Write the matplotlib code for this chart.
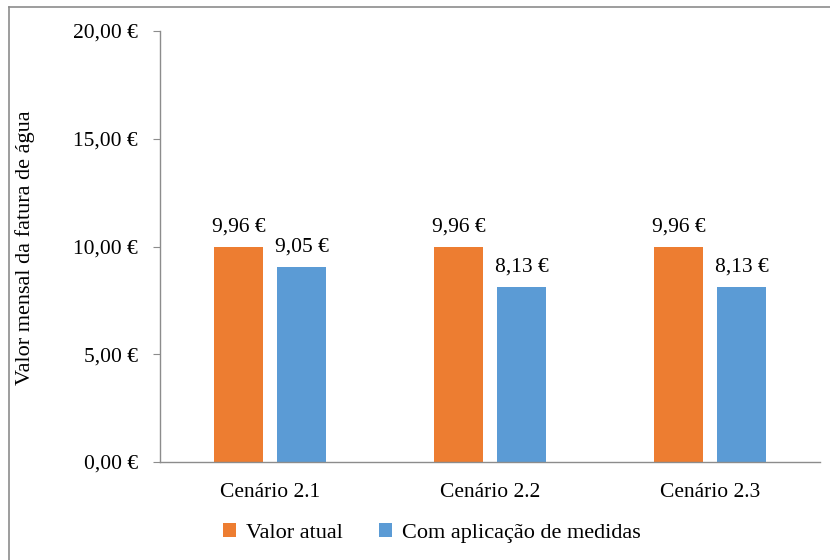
import matplotlib
matplotlib.use("Agg")
import matplotlib.pyplot as plt
from matplotlib.lines import Line2D
import numpy as np

categories = ["Cenário 2.1", "Cenário 2.2", "Cenário 2.3"]
valor_atual = [9.96, 9.96, 9.96]
com_medidas = [9.05, 8.13, 8.13]
series_names = ["Valor atual", "Com aplicação de medidas"]
yticks = [0, 5, 10, 15, 20]

ORANGE = "#ED7D31"
BLUE = "#5B9BD5"
AXIS_GRAY = "#8C8C8C"

plt.rcParams["font.family"] = ["Liberation Serif", "DejaVu Serif"]
FS = 15.5


def euro(v):
    return f"{v:.2f}".replace(".", ",") + " €"


fig = plt.figure(figsize=(8.3, 5.6), dpi=100)
ax = fig.add_axes([160 / 830, 1 - 462 / 560, 660 / 830, (462 - 31) / 560])

x = np.arange(len(categories))
w = 0.223
off = w / 2 + 0.032
b1 = ax.bar(x - off, valor_atual, width=w, color=ORANGE, label=series_names[0])
b2 = ax.bar(x + off, com_medidas, width=w, color=BLUE, label=series_names[1])

for bars, vals in ((b1, valor_atual), (b2, com_medidas)):
    for rect, v in zip(bars, vals):
        ax.annotate(euro(v), (rect.get_x() + rect.get_width() / 2, v),
                    xytext=(0, 7.5), textcoords="offset points",
                    ha="center", va="bottom", fontsize=FS)

ax.set_xlim(-0.5, len(categories) - 0.5)
ax.set_ylim(0, 20)
ax.set_yticks(yticks)
ax.set_yticklabels([euro(v) for v in yticks], fontsize=FS)
ax.set_xticks(x)
ax.set_xticklabels(categories, fontsize=FS)
ax.tick_params(axis="x", length=0, pad=15)
ax.tick_params(axis="y", length=5, color=AXIS_GRAY, pad=11, direction="out")

for s in ("top", "right"):
    ax.spines[s].set_visible(False)
for s in ("left", "bottom"):
    ax.spines[s].set_color(AXIS_GRAY)
    ax.spines[s].set_linewidth(1.0)

fig.text(25 / 830, 1 - 248 / 560, "Valor mensal da fatura de água",
         rotation=90, ha="center", va="center", fontsize=FS + 0.5)

leg = fig.legend(handles=[b1, b2], labels=series_names, loc="center",
                 bbox_to_anchor=(432 / 830, 1 - 533 / 560), ncol=2,
                 frameon=False, fontsize=FS + 0.5, handlelength=0.6,
                 handleheight=0.6, handletextpad=0.45, columnspacing=1.6)

# chart area border (left and top edges)
fig.add_artist(Line2D([9 / 830, 9 / 830], [0, 1 - 7 / 560],
                      transform=fig.transFigure, color="#8C8C8C", lw=1.2))
fig.add_artist(Line2D([9 / 830, 1], [1 - 7 / 560, 1 - 7 / 560],
                      transform=fig.transFigure, color="#8C8C8C", lw=1.2))

fig.savefig("out.png", dpi=100)
